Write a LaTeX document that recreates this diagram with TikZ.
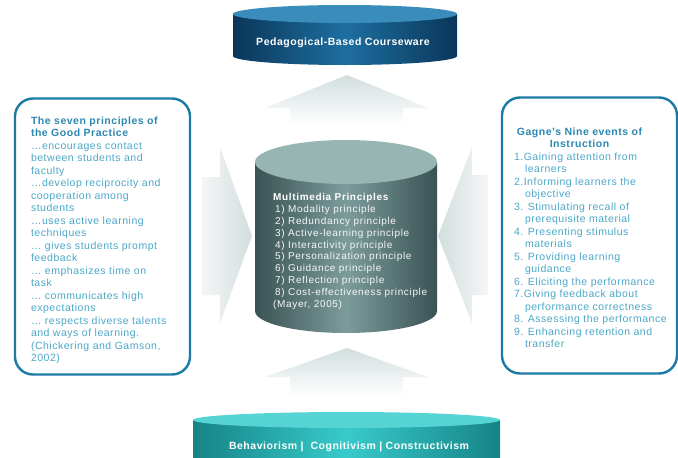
\documentclass[tikz,border=0pt]{standalone}
\usepackage{fontspec}
\setmainfont{Liberation Sans}[LetterSpace=5]
\usetikzlibrary{positioning}

\definecolor{boxline}{HTML}{1B7BA5}
\definecolor{boxtitle}{HTML}{2C88B0}
\definecolor{boxtext}{HTML}{4AA7C7}
\definecolor{arrowgray}{HTML}{D3DEDF}
\definecolor{arrowpale}{HTML}{F4F6F6}
\definecolor{courseedge}{HTML}{0B365A}
\definecolor{coursemid}{HTML}{1D6FA0}
\definecolor{coursetop}{HTML}{3A8CBB}
\definecolor{mmedge}{HTML}{3A5253}
\definecolor{mmmid}{HTML}{7C9C9B}
\definecolor{mmtop}{HTML}{96B5B3}
\definecolor{theoryedge}{HTML}{168486}
\definecolor{theorymid}{HTML}{38CACB}
\definecolor{theorytop}{HTML}{56D4D4}

\begin{document}
\begin{tikzpicture}[
                x=1pt, y=-1pt,
                infobox/.style={draw=boxline, line width=2.4pt,
                    rounded corners=18pt, minimum width=175pt,
                    minimum height=276pt},
                boxhead/.style={inner sep=0pt, align=left, text=boxtitle,
                    font=\fontsize{10.5}{12.6}\selectfont\bfseries},
                boxbody/.style={inner sep=0pt, align=left, text=boxtext,
                    font=\fontsize{10.5}{12.5}\selectfont},
                drumlabel/.style={text=white,
                    font=\fontsize{10.5}{12}\selectfont\bfseries}]
            \useasboundingbox (0,0) rectangle (678,458);

            % block arrows
            \shade[top color=arrowgray, bottom color=white]
                (347,75) -- (428,108) -- (403,108) -- (403,125) --
                (290,125) -- (290,108) -- (265,108) -- cycle;
            \shade[top color=arrowgray, bottom color=white]
                (347,348) -- (428,377) -- (403,377) -- (403,396) --
                (290,396) -- (290,377) -- (265,377) -- cycle;
            \shade[left color=arrowpale, right color=arrowgray]
                (252,236) -- (220,323) -- (220,295) -- (202,295) --
                (202,177) -- (220,177) -- (220,147) -- cycle;
            \shade[right color=arrowpale, left color=arrowgray]
                (438,236) -- (472,147) -- (472,175) -- (488,175) --
                (488,295) -- (472,295) -- (472,323) -- cycle;

            % top drum
            \shade[left color=courseedge, right color=courseedge,
                middle color=coursemid]
                (233,14) -- (233,56) arc[start angle=180, end angle=0,
                x radius=112, y radius=9] -- (457,14) -- cycle;
            \fill[coursetop] (345,14) ellipse[x radius=112, y radius=9];
            \node[drumlabel] (courseware) at (343,43)
                {Pedagogical-Based Courseware};

            % centre cylinder
            \shade[left color=mmedge, right color=mmedge, middle color=mmmid]
                (255,162) -- (255,311) arc[start angle=180, end angle=0,
                x radius=91, y radius=22] -- (437,162) -- cycle;
            \fill[mmtop] (346,162) ellipse[x radius=91, y radius=22];
            \node[inner sep=0pt, anchor=north west, align=left,
                text=white!90!mmtop,
                font=\fontsize{10}{11.9}\selectfont\addfontfeature{LetterSpace=6.5}]
                (multimedia) at (273,193)
                {\textbf{\color{white}Multimedia Principles}\\
                 \hspace*{2pt}1) Modality principle\\
                 \hspace*{2pt}2) Redundancy principle\\
                 \hspace*{2pt}3) Active-learning principle\\
                 \hspace*{2pt}4) Interactivity principle\\
                 \hspace*{2pt}5) Personalization principle\\
                 \hspace*{2pt}6) Guidance principle\\
                 \hspace*{2pt}7) Reflection principle\\
                 \hspace*{2pt}8) Cost-effectiveness principle\\
                 (Mayer, 2005)};

            % bottom drum
            \shade[left color=theoryedge, right color=theoryedge,
                middle color=theorymid]
                (193,420) -- (193,470) arc[start angle=180, end angle=0,
                x radius=153.5, y radius=8] -- (500,420) -- cycle;
            \fill[theorytop] (346.5,420) ellipse[x radius=153.5, y radius=8];
            \node[drumlabel] (theories) at (349,447)
                {Behaviorism |\ \ Cognitivism | Constructivism};

            % side boxes
            \node[infobox] (goodbox) at (102.5,236.5) {};
            \node[infobox] (gagnebox) at (589.5,235.5) {};

            \node[boxbody, below right=19pt and 17pt of goodbox.north west]
                (goodtext)
                {\textbf{\color{boxtitle}The seven principles of}\\
                 \textbf{\color{boxtitle}the Good Practice}\\
                 …encourages contact\\
                 between students and\\
                 faculty\\
                 …develop reciprocity and\\
                 cooperation among\\
                 students\\
                 …uses active learning\\
                 techniques\\
                 … gives students prompt\\
                 feedback\\
                 … emphasizes time on\\
                 task\\
                 … communicates high\\
                 expectations\\
                 … respects diverse talents\\
                 and ways of learning.\\
                 (Chickering and Gamson,\\
                 2002)};

            \node[boxhead, align=center, below=31pt of gagnebox.north,
                xshift=-10pt] (gagnehead)
                {Gagne's Nine events of\\ Instruction};
            \node[boxbody, below right=56pt and 13pt of gagnebox.north west]
                (gagnelist)
                {1.Gaining attention from\\
                 \hspace*{11pt}learners\\
                 2.Informing learners the\\
                 \hspace*{11pt}objective\\
                 3. Stimulating recall of\\
                 \hspace*{11pt}prerequisite material\\
                 4. Presenting stimulus\\
                 \hspace*{11pt}materials\\
                 5. Providing learning\\
                 \hspace*{11pt}guidance\\
                 6. Eliciting the performance\\
                 7.Giving feedback about\\
                 \hspace*{11pt}performance correctness\\
                 8. Assessing the performance\\
                 9. Enhancing retention and\\
                 \hspace*{11pt}transfer};
        \end{tikzpicture}
\end{document}
